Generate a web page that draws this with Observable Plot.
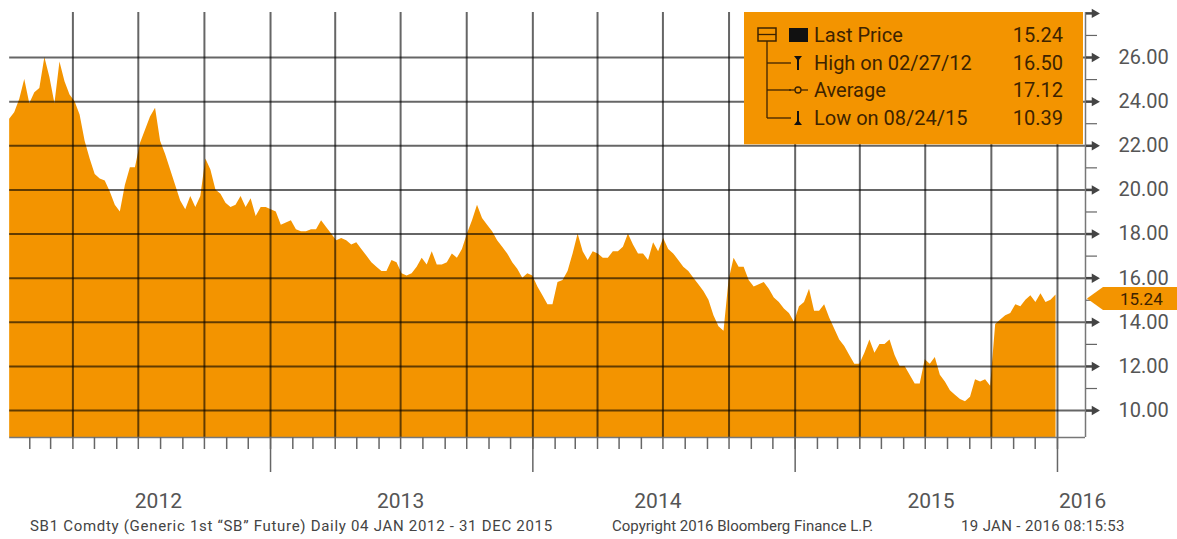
<!DOCTYPE html>
<html>
<head>
<meta charset="utf-8">
<script src="https://cdn.jsdelivr.net/npm/d3@7"></script>
<script src="https://cdn.jsdelivr.net/npm/@observablehq/plot@0.6"></script>
<style>
  html, body { margin: 0; padding: 0; background: #fff; }
  #wrap { position: relative; width: 1177px; height: 539px; overflow: hidden; font-family: Roboto, "Open Sans", sans-serif; }
  #footer { position: relative; width: 1177px; height: 27px; font-size: 15px; color: #444; }
  #footer span { position: absolute; top: 7px; white-space: nowrap; line-height: 15px; }
</style>
</head>
<body>
<div id="wrap">
  <div id="chart"></div>
  <div id="footer"></div>
</div>
<script>
// ---- data (weekly closes, SB1 Comdty) ----
const firstWeek = "2012-01-04";
const prices2012 = [23.2, 23.5, 24.1, 25.0, 23.9, 24.4, 24.6, 26.0, 25.1, 23.9,
  25.8, 24.9, 24.3, 24.0, 23.4, 22.2, 21.4, 20.7, 20.5, 20.4,
  19.9, 19.3, 19.0, 20.2, 21.0, 21.0, 22.1, 22.7, 23.3, 23.7,
  22.2, 21.6, 20.9, 20.2, 19.5, 19.1, 19.7, 19.2, 19.7, 21.4,
  20.9, 20.0, 19.8, 19.4, 19.2, 19.3, 19.7, 19.2, 19.6, 18.8,
  19.2, 19.2];
const prices2013 = [19.1, 19.0, 18.4, 18.5, 18.6, 18.2, 18.1, 18.1, 18.2, 18.2,
  18.6, 18.3, 18.0, 17.7, 17.8, 17.7, 17.5, 17.6, 17.3, 17.0,
  16.7, 16.5, 16.3, 16.3, 16.8, 16.7, 16.2, 16.1, 16.2, 16.5,
  16.9, 16.6, 17.2, 16.6, 16.6, 16.7, 17.1, 16.9, 17.3, 18.0,
  18.6, 19.3, 18.7, 18.4, 18.1, 17.7, 17.4, 17.1, 16.7, 16.4,
  16.0, 16.2];
const prices2014 = [16.1, 15.6, 15.2, 14.8, 14.8, 15.8, 15.9, 16.3, 17.1, 18.0,
  17.2, 16.8, 17.2, 17.1, 16.9, 16.9, 17.2, 17.2, 17.4, 18.0,
  17.5, 17.1, 17.1, 16.8, 17.6, 17.2, 17.8, 17.3, 17.1, 16.8,
  16.5, 16.3, 16.0, 15.7, 15.4, 15.0, 14.3, 13.8, 13.6, 15.9,
  16.9, 16.5, 16.5, 15.9, 15.6, 15.7, 15.8, 15.5, 15.1, 14.9,
  14.6, 14.4];
const prices2015 = [14.0, 14.7, 14.9, 15.5, 14.5, 14.5, 14.8, 14.2, 13.7, 13.2,
  12.9, 12.5, 12.1, 12.1, 12.6, 13.2, 12.6, 13.0, 13.0, 13.2,
  12.5, 12.0, 12.0, 11.6, 11.2, 11.2, 12.3, 12.1, 12.4, 11.6,
  11.3, 10.9, 10.7, 10.5, 10.4, 10.6, 11.4, 11.3, 11.4, 11.1,
  13.9, 14.1, 14.3, 14.4, 14.8, 14.7, 15.0, 15.2, 14.9, 15.3,
  14.9, 15.0, 15.24];

const xDomain = ["2012-01-01", "2016-02-09"];
const yDomain = [8.78, 28.04];
const gridValues = [10, 12, 14, 16, 18, 20, 22, 24, 26];
const majorTickValues = [10, 12, 14, 16, 18, 20, 22, 24, 26, 28];
const minorTickValues = [11, 13, 15, 17, 19, 21, 23, 25, 27];
const quarterLines = ["2012-04-01", "2012-07-01", "2012-10-01", "2013-01-01",
  "2013-04-01", "2013-07-01", "2013-10-01", "2014-01-01",
  "2014-04-01", "2014-07-01", "2014-10-01", "2015-01-01",
  "2015-04-01", "2015-07-01", "2015-10-01", "2016-01-01"];
const yearTicks = ["2013-01-01", "2014-01-01", "2015-01-01", "2016-01-01"];
const yearLabelDates = ["2012-07-29", "2013-07-01", "2014-06-24", "2015-07-09", "2016-02-05"];
const legendLabels = ["Last Price", "High on 02/27/12", "Average", "Low on 08/24/15"];
const legendValues = ["15.24", "16.50", "17.12", "10.39"];
const lastPrice = 15.24;
const footerTexts = ["SB1 Comdty (Generic 1st \u201CSB\u201D Future) Daily 04 JAN 2012 - 31 DEC 2015",
  "Copyright 2016 Bloomberg Finance L.P.", "19 JAN - 2016 08:15:53"];

(function () {
  const ORANGE = "#F39400";
  const TEXT_DARK = "#3d2300";
  const FONT = "Roboto, 'Open Sans', sans-serif";
  const allPrices = [...prices2012, ...prices2013, ...prices2014, ...prices2015];
  const start = new Date(firstWeek);
  const data = allPrices.map((p, i) => ({date: d3.utcDay.offset(start, 7 * i), price: p}));
  const X0 = new Date(xDomain[0]), X1 = new Date(xDomain[1]);
  const monthTicks = d3.utcMonth.range(new Date("2012-02-01"), new Date("2016-01-02"));

  const plot = Plot.plot({
    width: 1177,
    height: 512,
    marginLeft: 7,
    marginRight: 92,
    marginTop: 12,
    marginBottom: 75,
    style: {fontFamily: FONT, background: "transparent", overflow: "visible"},
    x: {type: "utc", domain: [X0, X1], label: null},
    y: {domain: yDomain, label: null},
    marks: [
      Plot.areaY(data, {x: "date", y: "price", fill: ORANGE, clip: true}),
      Plot.ruleY(gridValues, {x1: () => data[0].date, x2: () => X1, stroke: "#000", strokeOpacity: 0.6, strokeWidth: 2}),
      Plot.ruleX(quarterLines.map(d => new Date(d)), {stroke: "#000", strokeOpacity: 0.6, strokeWidth: 2}),
      Plot.ruleX([X1], {stroke: "#777", strokeWidth: 1.5}),
      Plot.ruleY([yDomain[0]], {x1: () => data[0].date, x2: () => X1, stroke: "#777", strokeWidth: 1.5}),
      Plot.axisX(monthTicks, {tickSize: 12, fill: "none", stroke: "#666", strokeWidth: 1.5, label: null}),
      Plot.axisX(yearTicks.map(d => new Date(d)), {tickSize: 35, fill: "none", stroke: "#666", strokeWidth: 1.5, label: null}),
      Plot.axisX(yearLabelDates.map(d => new Date(d)), {tickSize: 0, tickPadding: 56, tickFormat: d3.utcFormat("%Y"), fontSize: 21, fill: "#555", label: null}),
      Plot.axisY(minorTickValues, {anchor: "right", tickSize: 11, fill: "none", stroke: "#666", strokeWidth: 1.2, label: null}),
      Plot.axisY(majorTickValues, {anchor: "right", tickSize: 8, fill: "none", stroke: "#444", strokeWidth: 2.5, label: null}),
      Plot.dot(majorTickValues, {x: () => X1, y: d => d, symbol: "triangle", rotate: 90, r: 3.5, dx: 9, fill: "#444"}),
      Plot.axisY(gridValues, {anchor: "right", tickSize: 0, tickPadding: 33, tickFormat: d3.format(".2f"), fontSize: 20, fill: "#555", label: null})
    ]
  });
  document.getElementById("chart").appendChild(plot);

  // ---- legend box & last-price tag, placed with the plot's scales ----
  const svg = d3.select(plot);
  const xS = plot.scale("x"), yS = plot.scale("y");
  const rightX = xS.apply(X1);
  const topY = yS.apply(yDomain[1]);
  const boxW = 339;
  const boxX = rightX - 341;
  const boxBottom = yS.apply(22) - 1;
  const lg = svg.append("g").attr("font-family", FONT).attr("text-anchor", "start");
  lg.append("rect").attr("x", boxX).attr("y", topY).attr("width", boxW).attr("height", boxBottom - topY).attr("fill", ORANGE);
  const rowY = [topY + 23, topY + 51, topY + 78, topY + 106];
  const treeX = boxX + 23, iconX = boxX + 54;
  lg.append("rect").attr("x", treeX - 9).attr("y", rowY[0] - 7).attr("width", 18).attr("height", 13)
    .attr("fill", "none").attr("stroke", TEXT_DARK).attr("stroke-width", 1.5);
  lg.append("line").attr("x1", treeX - 9).attr("x2", treeX + 9).attr("y1", rowY[0] - 0.5).attr("y2", rowY[0] - 0.5)
    .attr("stroke", TEXT_DARK).attr("stroke-width", 1.3);
  lg.append("line").attr("x1", treeX).attr("x2", treeX).attr("y1", rowY[0] + 6).attr("y2", rowY[3])
    .attr("stroke", TEXT_DARK).attr("stroke-width", 1.3);
  [1, 2, 3].forEach(i => lg.append("line").attr("x1", treeX).attr("x2", iconX - 7).attr("y1", rowY[i]).attr("y2", rowY[i])
    .attr("stroke", TEXT_DARK).attr("stroke-width", 1.3));
  lg.append("rect").attr("x", iconX - 9).attr("y", rowY[0] - 7).attr("width", 19).attr("height", 14).attr("fill", "#111");
  lg.append("line").attr("x1", iconX).attr("x2", iconX).attr("y1", rowY[1] - 6).attr("y2", rowY[1] + 7).attr("stroke", "#111").attr("stroke-width", 2);
  lg.append("path").attr("d", `M${iconX - 4},${rowY[1] - 7}L${iconX + 4},${rowY[1] - 7}L${iconX},${rowY[1] - 2}Z`).attr("fill", "#111");
  lg.append("line").attr("x1", iconX - 9).attr("x2", iconX + 10).attr("y1", rowY[2]).attr("y2", rowY[2]).attr("stroke", TEXT_DARK).attr("stroke-width", 1.3);
  lg.append("circle").attr("cx", iconX).attr("cy", rowY[2]).attr("r", 3).attr("fill", ORANGE).attr("stroke", TEXT_DARK).attr("stroke-width", 1.3);
  lg.append("line").attr("x1", iconX).attr("x2", iconX).attr("y1", rowY[3] - 7).attr("y2", rowY[3] + 6).attr("stroke", "#111").attr("stroke-width", 2);
  lg.append("path").attr("d", `M${iconX - 4},${rowY[3] + 7}L${iconX + 4},${rowY[3] + 7}L${iconX},${rowY[3] + 2}Z`).attr("fill", "#111");
  legendLabels.forEach((t, i) => {
    lg.append("text").attr("x", boxX + 70).attr("y", rowY[i]).attr("dy", "0.36em").attr("text-anchor", "start")
      .attr("font-size", 20).attr("fill", TEXT_DARK).text(t);
    lg.append("text").attr("x", boxX + 319).attr("y", rowY[i]).attr("dy", "0.36em").attr("text-anchor", "end")
      .attr("font-size", 20).attr("fill", TEXT_DARK).text(legendValues[i]);
  });
  const yc = yS.apply(lastPrice) + 4;
  const tag = svg.append("g");
  tag.append("path")
    .attr("d", `M${rightX + 2},${yc}L${rightX + 18},${yc - 11.5}L1177,${yc - 11.5}L1177,${yc + 11.5}L${rightX + 18},${yc + 11.5}Z`)
    .attr("fill", ORANGE);
  tag.append("text").attr("x", rightX + 35).attr("y", yc).attr("dy", "0.36em").attr("text-anchor", "start")
    .attr("font-family", FONT).attr("font-size", 17).attr("fill", TEXT_DARK).text(lastPrice.toFixed(2));

  const footerLeft = [30, 612, 961];
  const footerSpacing = ["0.7px", "0px", "0.35px"];
  const footer = document.getElementById("footer");
  footerTexts.forEach((t, i) => {
    const s = document.createElement("span");
    s.style.left = footerLeft[i] + "px";
    s.style.letterSpacing = footerSpacing[i];
    s.textContent = t;
    footer.appendChild(s);
  });
})();
</script>
</body>
</html>
